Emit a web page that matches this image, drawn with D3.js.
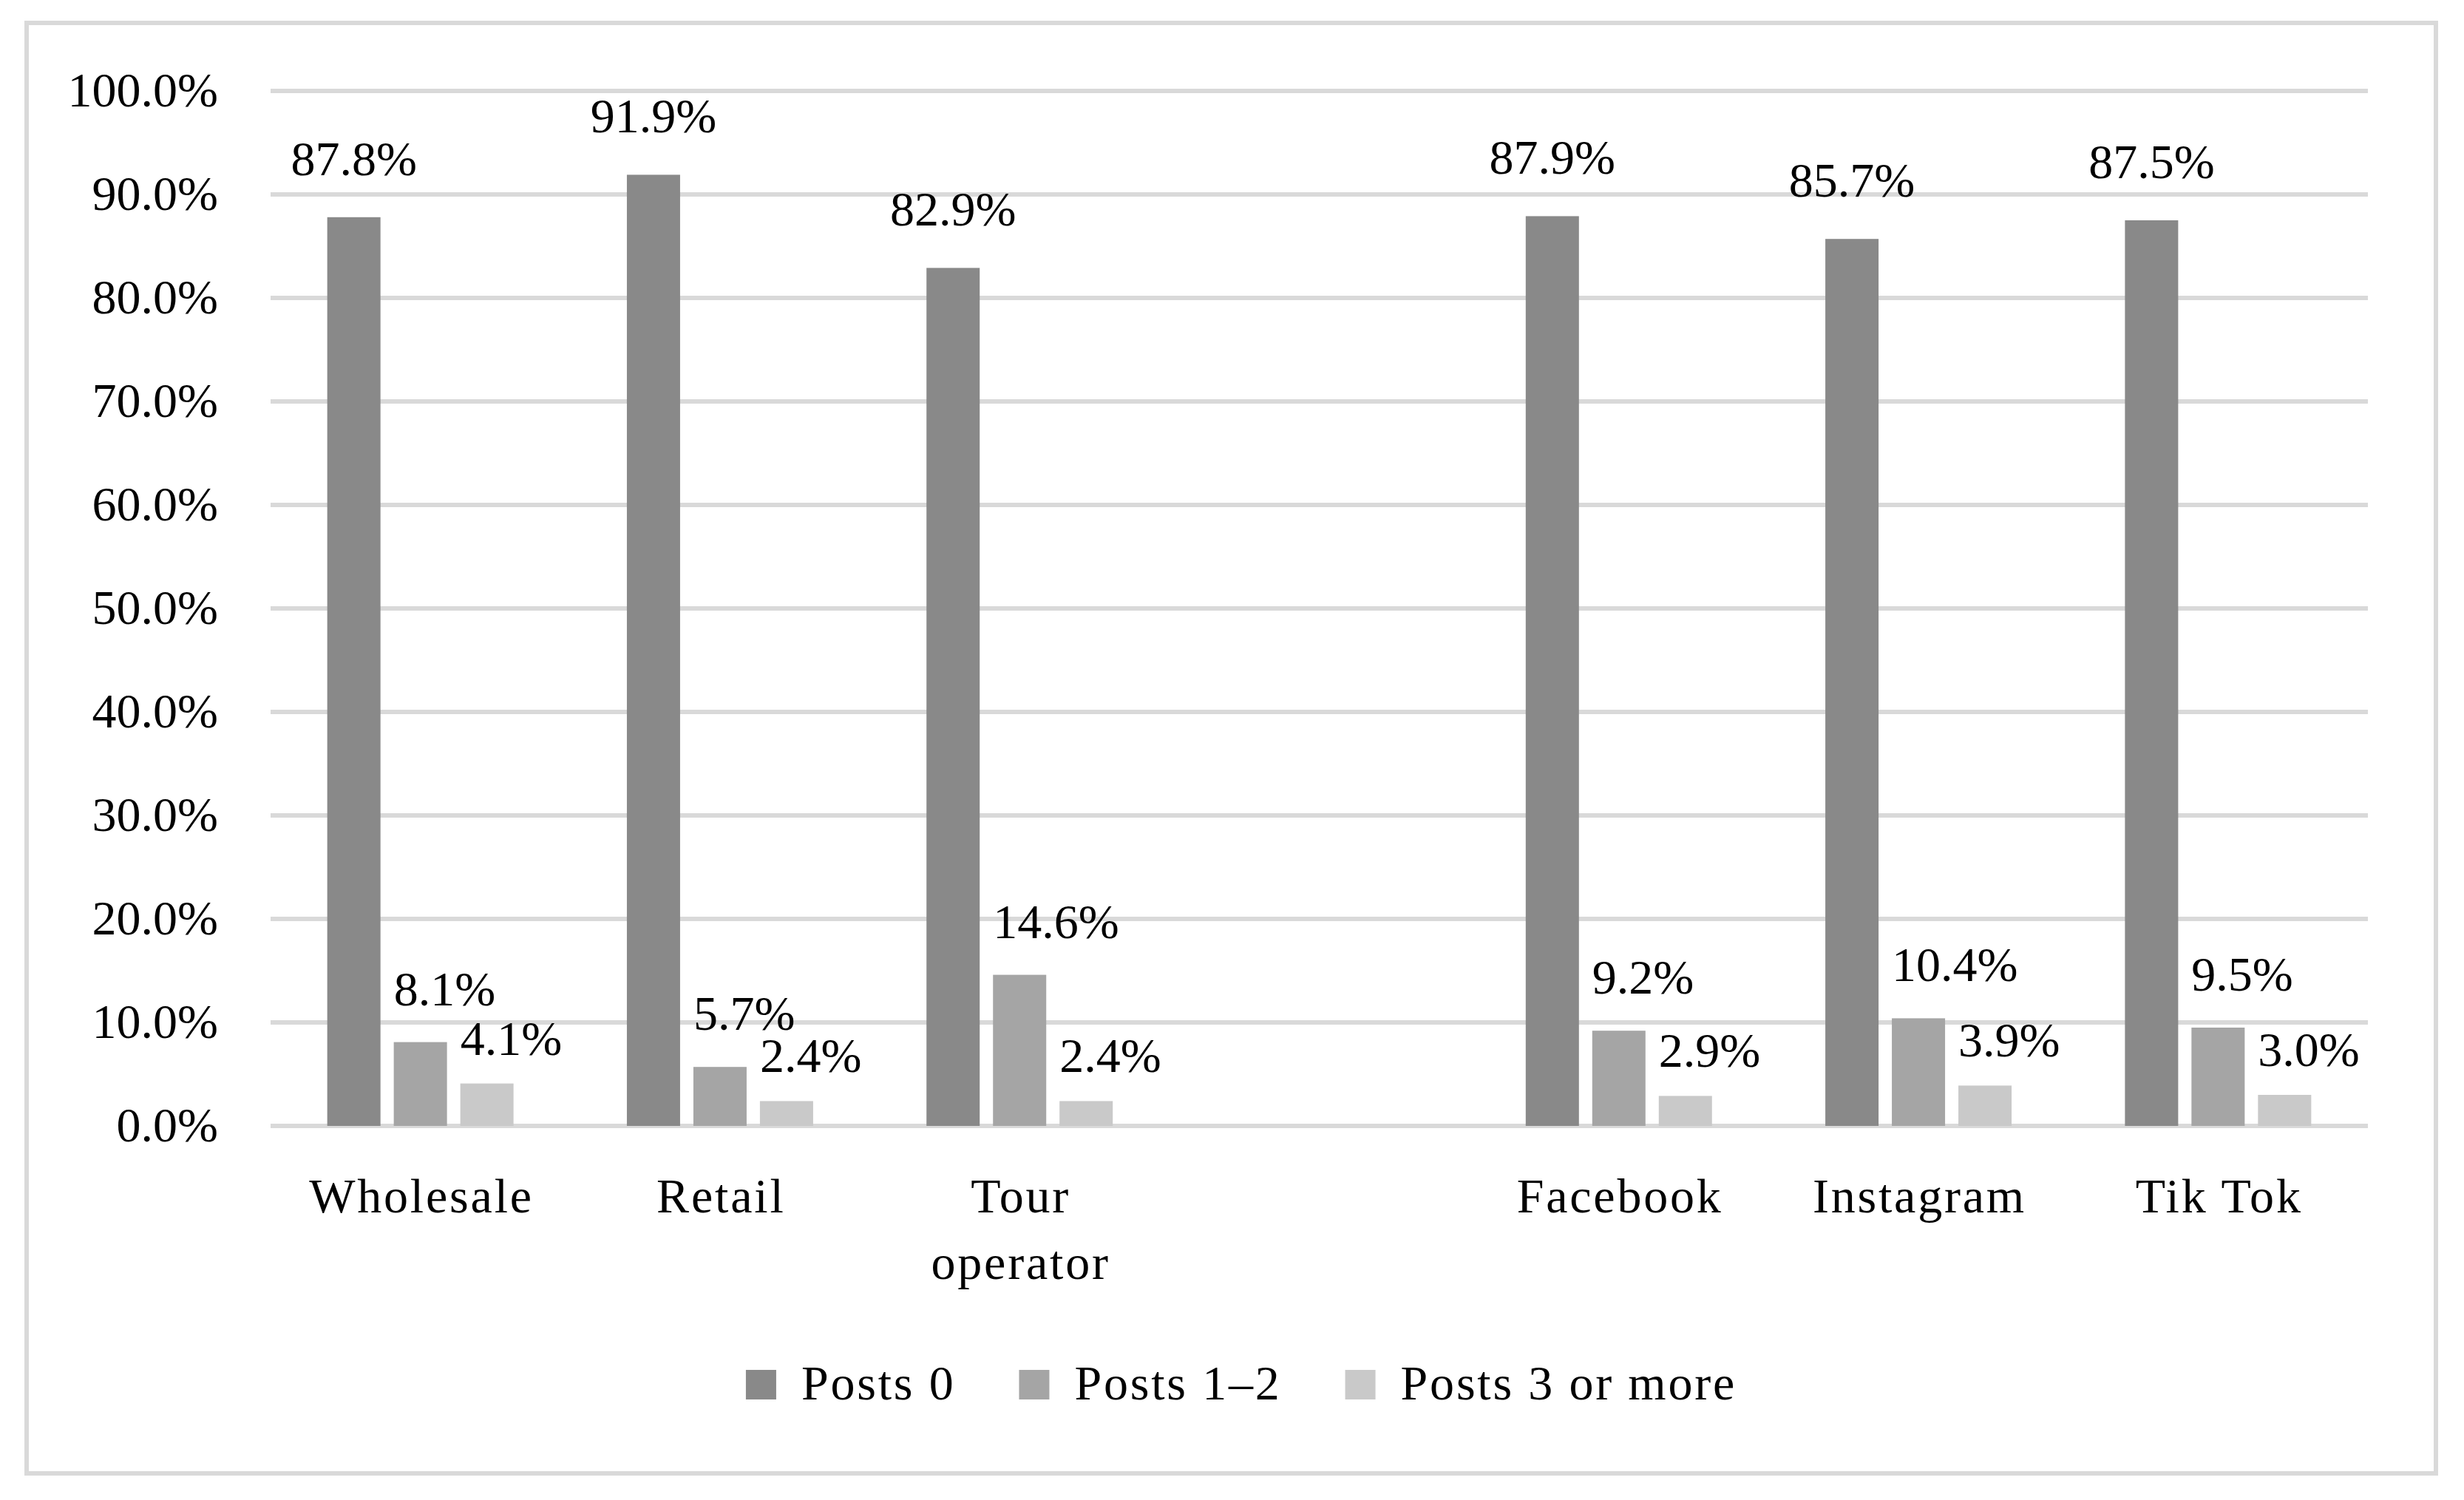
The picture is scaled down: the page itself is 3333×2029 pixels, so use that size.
<!DOCTYPE html>
<html>
<head>
<meta charset="utf-8">
<script src="https://cdn.jsdelivr.net/npm/d3@7"></script>
<style>
  html, body { margin: 0; padding: 0; background: #ffffff; }
  svg { display: block; }
  text { font-family: "Liberation Serif", "Times New Roman", serif; fill: #000; }
</style>
</head>
<body>
<svg id="chart" width="3333" height="2029"></svg>
<script>
// ---- data ----
const categories = ["Wholesale", "Retail", "Tour operator", "", "Facebook", "Instagram", "Tik Tok"];
const seriesNames = ["Posts 0", "Posts 1\u20132", "Posts 3 or more"];
const posts0 = [0.878, 0.919, 0.829, null, 0.879, 0.857, 0.875];
const posts12 = [0.081, 0.057, 0.146, null, 0.092, 0.104, 0.095];
const posts3plus = [0.041, 0.024, 0.024, null, 0.029, 0.039, 0.030];
const yTicks = [0, 0.1, 0.2, 0.3, 0.4, 0.5, 0.6, 0.7, 0.8, 0.9, 1.0];

// ---- styles ----
const colors = ["#898989", "#a5a5a5", "#c9c9c9"];
const gridColor = "#d9d9d9";
const fontSize = 66;
const wordSpacing = 2.8;

const svg = d3.select("#chart");
const W = 3333, H = 2029;
svg.append("rect").attr("width", W).attr("height", H).attr("fill", "#fff");

// outer border
svg.append("rect")
  .attr("x", 36).attr("y", 31).attr("width", 3259).attr("height", 1962)
  .attr("fill", "none").attr("stroke", gridColor).attr("stroke-width", 6);

const plot = { left: 366, right: 3203, top: 123, bottom: 1523 };

const x = d3.scaleBand().domain(categories.map((c, i) => i)).range([plot.left, plot.right]).padding(0);
const xInner = d3.scaleBand().domain([0, 1, 2]).range([0, x.bandwidth()]).paddingInner(0.2).paddingOuter(0.852);
const y = d3.scaleLinear().domain([0, 1]).range([plot.bottom, plot.top]);

// gridlines
svg.append("g").selectAll("line").data(yTicks).join("line")
  .attr("x1", plot.left).attr("x2", plot.right)
  .attr("y1", d => y(d)).attr("y2", d => y(d))
  .attr("stroke", gridColor).attr("stroke-width", 6);

// y axis labels
const yAxis = d3.axisLeft(y).tickValues(yTicks).tickFormat(d3.format(".1%")).tickSize(0).tickPadding(0);
const yg = svg.append("g").attr("transform", `translate(295,0)`).call(yAxis);
yg.select(".domain").remove();
yg.selectAll("text")
  .attr("x", 0).attr("dy", null).attr("y", 20)
  .style("font-family", "'Liberation Serif', serif").style("font-size", fontSize + "px")
  .attr("fill", "#000").attr("text-anchor", "end");

// bars
const seriesData = [posts0, posts12, posts3plus];
const barG = svg.append("g");
seriesData.forEach((vals, s) => {
  const pts = vals.map((v, i) => ({ v, i })).filter(d => d.v !== null);
  barG.append("g").selectAll("rect").data(pts).join("rect")
    .attr("x", d => x(d.i) + xInner(s))
    .attr("width", xInner.bandwidth())
    .attr("y", d => y(d.v))
    .attr("height", d => y(0) - y(d.v))
    .attr("fill", colors[s]);
});

// data labels
const labelGap = [57, 50, 39];
seriesData.forEach((vals, s) => {
  const pts = vals.map((v, i) => ({ v, i })).filter(d => d.v !== null);
  svg.append("g").selectAll("text").data(pts).join("text")
    .attr("x", d => s === 0 ? x(d.i) + xInner(s) + xInner.bandwidth() / 2 : x(d.i) + xInner(s))
    .attr("y", d => y(d.v) - labelGap[s])
    .attr("text-anchor", s === 0 ? "middle" : "start")
    .style("font-size", fontSize + "px")
    .text(d => d3.format(".1%")(d.v));
});

// category labels (wrapped like the reference)
const catG = svg.append("g");
categories.forEach((c, i) => {
  if (!c) return;
  const cxm = x(i) + x.bandwidth() / 2 + wordSpacing / 2;
  const t = catG.append("text")
    .attr("x", cxm)
    .attr("y", 1640)
    .attr("text-anchor", "middle")
    .style("font-size", fontSize + "px")
    .style("letter-spacing", wordSpacing + "px")
    .text(c);
  if (t.node().getComputedTextLength() > 330) {
    const words = c.split(" ");
    t.text(null);
    words.forEach((w, k) => {
      t.append("tspan").attr("x", cxm).attr("dy", k === 0 ? 0 : 90).text(w);
    });
  }
});

// legend
const legG = svg.append("g");
const sw = 41, swH = 40, txtGap = 34, itemGap = 86, legBaseline = 1893, legCenter = 1679;
let cx = 0;
seriesNames.forEach((n, s) => {
  const g = legG.append("g");
  g.append("rect").attr("x", cx).attr("y", legBaseline - swH).attr("width", sw).attr("height", swH).attr("fill", colors[s]);
  const t = g.append("text").attr("x", cx + sw + txtGap).attr("y", legBaseline)
    .style("font-size", fontSize + "px")
    .style("letter-spacing", wordSpacing + "px")
    .text(n);
  cx += sw + txtGap + t.node().getComputedTextLength() + itemGap;
});
const legW = cx - itemGap;
legG.attr("transform", `translate(${legCenter - legW / 2},0)`);
</script>
</body>
</html>
